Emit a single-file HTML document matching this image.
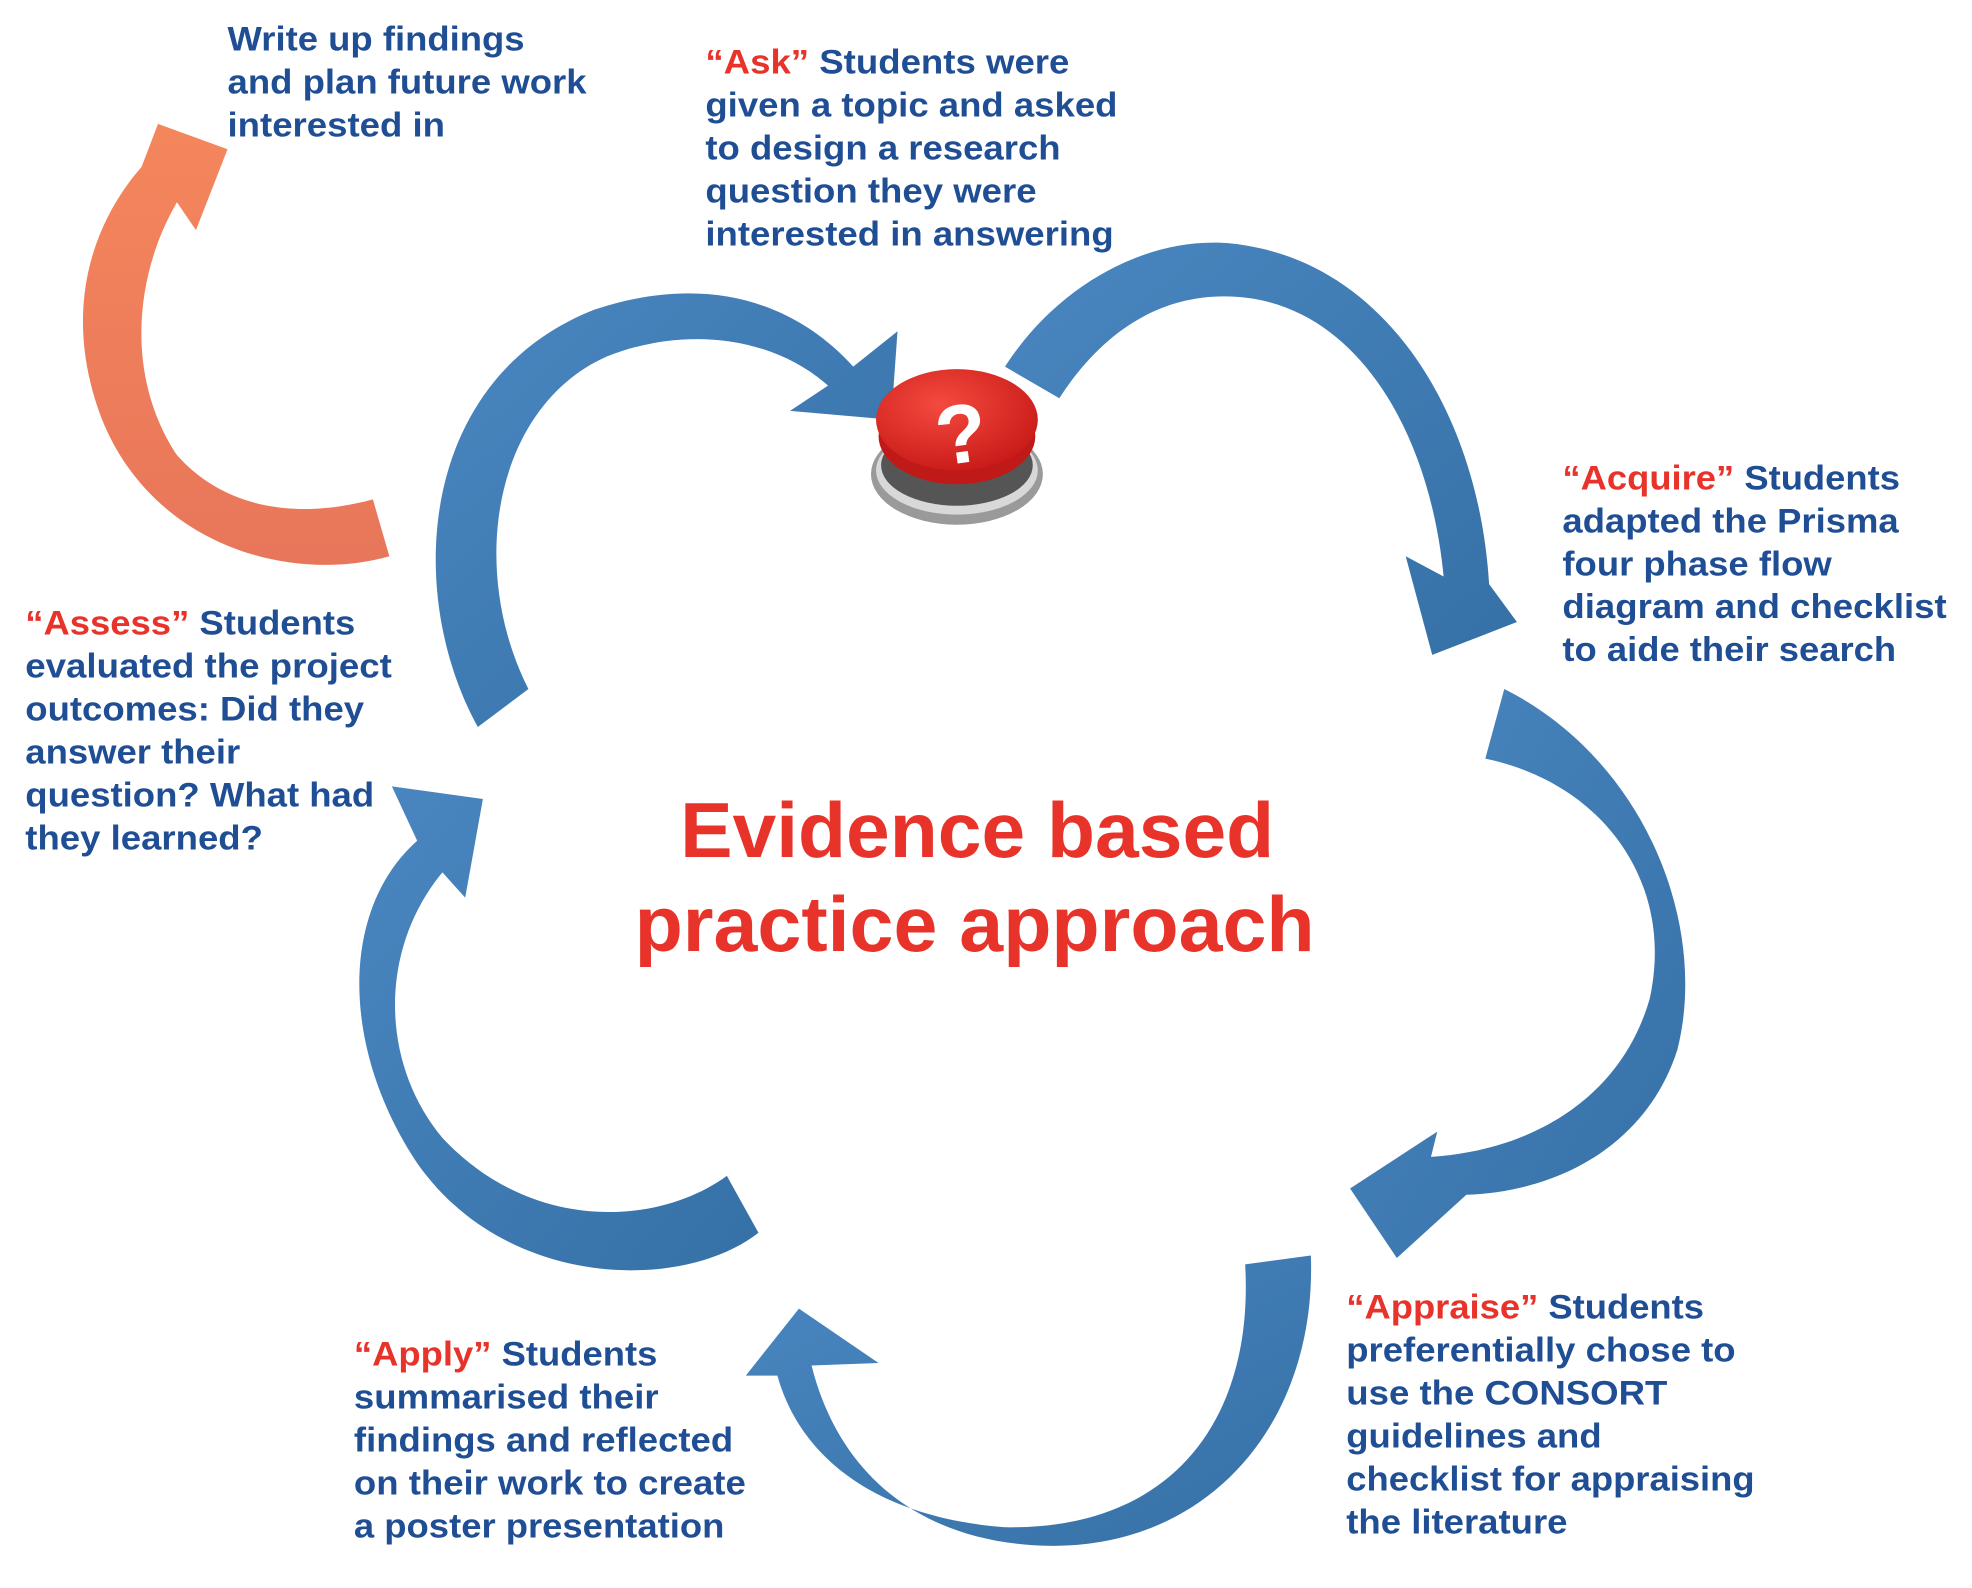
<!DOCTYPE html>
<html><head><meta charset="utf-8"><style>
html,body{margin:0;padding:0;background:#fff;}
svg{display:block;}
text{font-family:"Liberation Sans",sans-serif;font-weight:bold;}
.b{fill:#1f4e94;font-size:27px;}
.r{fill:#e8332a;}
</style></head><body>
<svg width="1972" height="1588" viewBox="0 0 1560 1256" preserveAspectRatio="none" xmlns="http://www.w3.org/2000/svg">
<defs>
<linearGradient id="bl" x1="0" y1="0" x2="1" y2="1"><stop offset="0" stop-color="#4a86c0"/><stop offset="1" stop-color="#3570a6"/></linearGradient>
<linearGradient id="or" x1="0" y1="0" x2="0" y2="1"><stop offset="0" stop-color="#f4865c"/><stop offset="1" stop-color="#e8765a"/></linearGradient>
<radialGradient id="rd" cx="0.4" cy="0.35" r="0.7"><stop offset="0" stop-color="#f44a3e"/><stop offset="1" stop-color="#c81a18"/></radialGradient>
</defs>

<!-- orange arrow -->
<path fill="url(#or)" d="M308,440 C230,462 120,432 80,330 C50,250 70,180 112,132 L125,98 L180,118 L155,182 L140,160 C105,220 100,300 140,360 C180,405 240,410 295,395 Z"/>

<!-- blue arrows -->
<path fill="url(#bl)" d="M378,575 C320,470 330,300 470,245 C560,215 630,240 675,290 L710,262 L705,332 L625,325 L655,305 C610,265 540,258 480,282 C390,322 370,450 418,545 Z"/>
<path fill="url(#bl)" d="M795,290 C840,220 920,180 990,195 C1100,215 1170,330 1178,462 L1200,492 L1133,518 L1112,440 L1142,456 C1132,350 1080,250 990,236 C920,226 870,265 838,315 Z"/>
<path fill="url(#bl)" d="M1190,545 C1300,600 1352,730 1327,830 C1305,900 1240,942 1160,945 L1105,995 L1068,940 L1137,895 L1132,915 C1210,910 1282,870 1305,790 C1325,700 1270,620 1175,600 Z"/>
<path fill="url(#bl)" d="M1037,993 C1042,1130 950,1232 815,1222 C720,1215 662,1160 642,1080 L695,1078 L632,1035 L590,1088 L615,1088 C632,1150 690,1200 795,1208 C930,1210 992,1120 985,1000 Z"/>
<path fill="url(#bl)" d="M600,975 C540,1022 400,1020 330,920 C270,830 268,720 330,665 L310,622 L382,632 L368,710 L350,690 C300,750 300,840 350,900 C420,975 520,970 575,930 Z"/>

<!-- button -->
<ellipse cx="757" cy="375" rx="68" ry="40" fill="#9a9a9a"/>
<ellipse cx="757" cy="372" rx="64" ry="35" fill="#d8d8d8"/>
<ellipse cx="757" cy="368" rx="60" ry="32" fill="#555"/>
<ellipse cx="757" cy="345" rx="62" ry="38" fill="#c01a18"/>
<ellipse cx="757" cy="332" rx="64" ry="40" fill="url(#rd)"/>
<text x="760" y="366" text-anchor="middle" style="font-size:66px;fill:#fff;" transform="rotate(-8 760 340)">?</text>

<!-- title -->
<text x="538" y="678" class="r" style="font-size:62px;" textLength="470" lengthAdjust="spacingAndGlyphs">Evidence based</text>
<text x="502" y="752" class="r" style="font-size:62px;" textLength="538" lengthAdjust="spacingAndGlyphs">practice approach</text>

<!-- Write up -->
<text class="b" x="180" y="40" textLength="235" lengthAdjust="spacingAndGlyphs">Write up findings</text>
<text class="b" x="180" y="74" textLength="284" lengthAdjust="spacingAndGlyphs">and plan future work</text>
<text class="b" x="180" y="108" textLength="172" lengthAdjust="spacingAndGlyphs">interested in</text>

<!-- Ask -->
<text class="b" x="558" y="58" textLength="288" lengthAdjust="spacingAndGlyphs"><tspan class="r">“Ask”</tspan> Students were</text>
<text class="b" x="558" y="92" textLength="326" lengthAdjust="spacingAndGlyphs">given a topic and asked</text>
<text class="b" x="558" y="126" textLength="281" lengthAdjust="spacingAndGlyphs">to design a research</text>
<text class="b" x="558" y="160" textLength="262" lengthAdjust="spacingAndGlyphs">question they were</text>
<text class="b" x="558" y="194" textLength="323" lengthAdjust="spacingAndGlyphs">interested in answering</text>

<!-- Acquire -->
<text class="b" x="1236" y="387" textLength="267" lengthAdjust="spacingAndGlyphs"><tspan class="r">“Acquire”</tspan> Students</text>
<text class="b" x="1236" y="421" textLength="266" lengthAdjust="spacingAndGlyphs">adapted the Prisma</text>
<text class="b" x="1236" y="455" textLength="213" lengthAdjust="spacingAndGlyphs">four phase flow</text>
<text class="b" x="1236" y="489" textLength="304" lengthAdjust="spacingAndGlyphs">diagram and checklist</text>
<text class="b" x="1236" y="523" textLength="264" lengthAdjust="spacingAndGlyphs">to aide their search</text>

<!-- Assess -->
<text class="b" x="20" y="502" textLength="261" lengthAdjust="spacingAndGlyphs"><tspan class="r">“Assess”</tspan> Students</text>
<text class="b" x="20" y="536" textLength="290" lengthAdjust="spacingAndGlyphs">evaluated the project</text>
<text class="b" x="20" y="570" textLength="268" lengthAdjust="spacingAndGlyphs">outcomes: Did they</text>
<text class="b" x="20" y="604" textLength="170" lengthAdjust="spacingAndGlyphs">answer their</text>
<text class="b" x="20" y="638" textLength="276" lengthAdjust="spacingAndGlyphs">question? What had</text>
<text class="b" x="20" y="672" textLength="188" lengthAdjust="spacingAndGlyphs">they learned?</text>

<!-- Apply -->
<text class="b" x="280" y="1080" textLength="240" lengthAdjust="spacingAndGlyphs"><tspan class="r">“Apply”</tspan> Students</text>
<text class="b" x="280" y="1114" textLength="241" lengthAdjust="spacingAndGlyphs">summarised their</text>
<text class="b" x="280" y="1148" textLength="300" lengthAdjust="spacingAndGlyphs">findings and reflected</text>
<text class="b" x="280" y="1182" textLength="310" lengthAdjust="spacingAndGlyphs">on their work to create</text>
<text class="b" x="280" y="1216" textLength="293" lengthAdjust="spacingAndGlyphs">a poster presentation</text>

<!-- Appraise -->
<text class="b" x="1065" y="1043" textLength="283" lengthAdjust="spacingAndGlyphs"><tspan class="r">“Appraise”</tspan> Students</text>
<text class="b" x="1065" y="1077" textLength="308" lengthAdjust="spacingAndGlyphs">preferentially chose to</text>
<text class="b" x="1065" y="1111" textLength="254" lengthAdjust="spacingAndGlyphs">use the CONSORT</text>
<text class="b" x="1065" y="1145" textLength="202" lengthAdjust="spacingAndGlyphs">guidelines and</text>
<text class="b" x="1065" y="1179" textLength="323" lengthAdjust="spacingAndGlyphs">checklist for appraising</text>
<text class="b" x="1065" y="1213" textLength="175" lengthAdjust="spacingAndGlyphs">the literature</text>
</svg>
</body></html>
